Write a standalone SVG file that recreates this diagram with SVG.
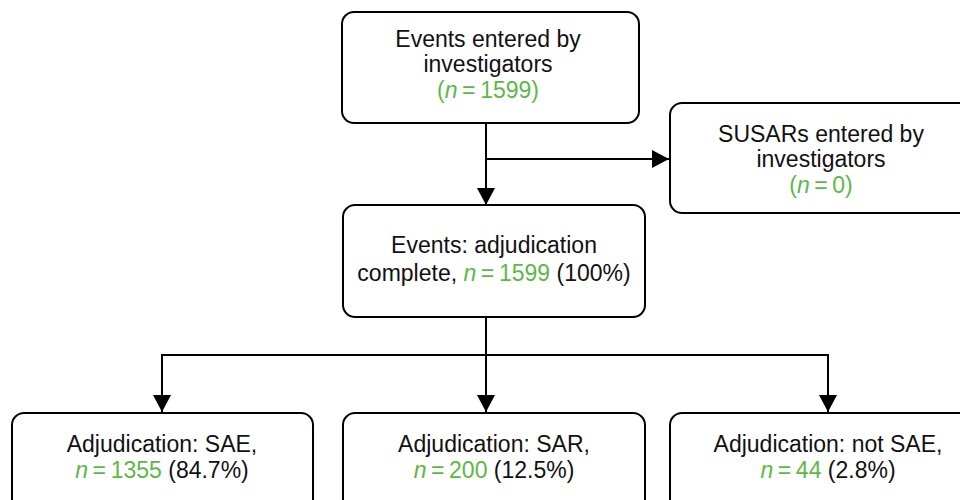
<svg xmlns="http://www.w3.org/2000/svg" width="960" height="500" viewBox="0 0 960 500">
<style>
.box{fill:#fff;stroke:#000;stroke-width:2}
.t{font-family:"Liberation Sans",Arial,sans-serif;font-size:23px;fill:#111;text-anchor:middle}
.g{fill:#5db846}
.c{fill:none;stroke:#000;stroke-width:2}
</style>
<defs>
<marker id="arr" markerUnits="userSpaceOnUse" markerWidth="18" markerHeight="18" viewBox="0 0 18 18" refX="17" refY="9" orient="auto">
<path d="M0,0 L17,9 L0,18 Z" fill="#000"/>
</marker>
</defs>
<g id="connectors">
<path class="c" d="M486,123 V205" marker-end="url(#arr)"/>
<path class="c" d="M486,159 H669" marker-end="url(#arr)"/>
<path class="c" d="M486,317 V412" marker-end="url(#arr)"/>
<path class="c" d="M486,355 H162 V412" marker-end="url(#arr)"/>
<path class="c" d="M486,355 H828 V412" marker-end="url(#arr)"/>
</g>
<g id="n1">
<rect class="box" x="342" y="12" width="297" height="111" rx="12"/>
<text class="t" x="488" y="47">Events entered by</text>
<text class="t" x="488" y="72">investigators</text>
<text class="t g" x="488" y="98">(<tspan font-style="italic">n</tspan>&#8201;=&#8201;1599)</text>
</g>
<g id="n2">
<rect class="box" x="670" y="103" width="302" height="110" rx="12"/>
<text class="t" x="821" y="142">SUSARs entered by</text>
<text class="t" x="821" y="167">investigators</text>
<text class="t g" x="821" y="193">(<tspan font-style="italic">n</tspan>&#8201;=&#8201;0)</text>
</g>
<g id="n3">
<rect class="box" x="343" y="205" width="302" height="112" rx="12"/>
<text class="t" x="494" y="253">Events: adjudication</text>
<text class="t" x="494" y="281">complete, <tspan class="g"><tspan font-style="italic">n</tspan>&#8201;=&#8201;1599</tspan> (100%)</text>
</g>
<g id="n4">
<rect class="box" x="12" y="413" width="301" height="110" rx="12"/>
<text class="t" x="162" y="452">Adjudication: SAE,</text>
<text class="t" x="162" y="478"><tspan class="g"><tspan font-style="italic">n</tspan>&#8201;=&#8201;1355</tspan> (84.7%)</text>
</g>
<g id="n5">
<rect class="box" x="343" y="413" width="302" height="110" rx="12"/>
<text class="t" x="494" y="452">Adjudication: SAR,</text>
<text class="t" x="494" y="478"><tspan class="g"><tspan font-style="italic">n</tspan>&#8201;=&#8201;200</tspan> (12.5%)</text>
</g>
<g id="n6">
<rect class="box" x="670" y="413" width="302" height="110" rx="12"/>
<text class="t" x="828" y="452">Adjudication: not SAE,</text>
<text class="t" x="828" y="478"><tspan class="g"><tspan font-style="italic">n</tspan>&#8201;=&#8201;44</tspan> (2.8%)</text>
</g>
</svg>
